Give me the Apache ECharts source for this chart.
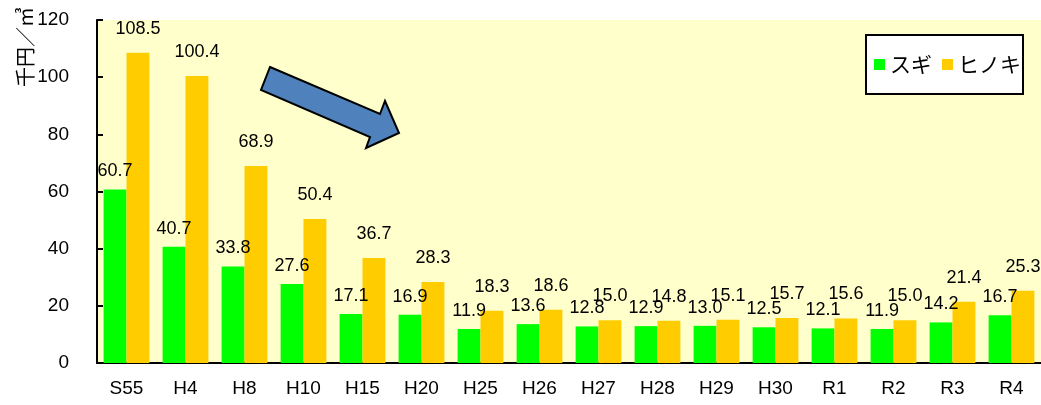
<!DOCTYPE html>
<html>
<head>
<meta charset="utf-8">
<script src="https://cdn.jsdelivr.net/npm/echarts@6/dist/echarts.min.js"></script>
<style>
  html, body { margin: 0; padding: 0; background: #fff; }
  #chart { width: 1041px; height: 405px; }
</style>
</head>
<body>
<div id="chart"></div>
<script>
var years = ['S55', 'H4', 'H8', 'H10', 'H15', 'H20', 'H25', 'H26', 'H27', 'H28', 'H29', 'H30', 'R1', 'R2', 'R3', 'R4'];
var sugi = [60.7, 40.7, 33.8, 27.6, 17.1, 16.9, 11.9, 13.6, 12.8, 12.9, 13.0, 12.5, 12.1, 11.9, 14.2, 16.7];
var hinoki = [108.5, 100.4, 68.9, 50.4, 36.7, 28.3, 18.3, 18.6, 15.0, 14.8, 15.1, 15.7, 15.6, 15.0, 21.4, 25.3];

var font = '"Liberation Sans", "Noto Sans CJK JP", sans-serif';

var myChart = echarts.init(document.getElementById('chart'));

var option = {
    animation: false,
    textStyle: { fontFamily: font, color: '#000' },
    grid: {
        left: 97, top: 20, width: 949, height: 343,
        show: true, backgroundColor: '#FFFFCC', borderWidth: 0
    },
    legend: {
        left: 866, top: 35,
        padding: [19, 2, 19, 8],
        backgroundColor: '#fff',
        borderColor: '#000',
        borderWidth: 2,
        itemWidth: 11,
        itemHeight: 11,
        itemGap: 10,
        icon: 'rect',
        textStyle: { fontSize: 21, fontFamily: '"Noto Sans CJK JP", sans-serif', color: '#000' },
        data: ['スギ', 'ヒノキ']
    },
    xAxis: {
        type: 'category',
        data: years,
        axisLine: { lineStyle: { color: '#000', width: 2 } },
        axisTick: { inside: true, length: 6, lineStyle: { color: '#000', width: 2 } },
        axisLabel: { fontSize: 19, color: '#000', margin: 16 }
    },
    yAxis: {
        type: 'value',
        min: 0, max: 120, interval: 20,
        axisLine: { show: true, lineStyle: { color: '#000', width: 2 } },
        axisTick: { show: true, inside: true, length: 6, lineStyle: { color: '#000', width: 2 } },
        axisLabel: { fontSize: 19, color: '#000', margin: 28 },
        splitLine: { show: false }
    },
    graphic: [
        {
            type: 'text',
            x: 25, y: 47,
            rotation: Math.PI / 2,
            style: {
                text: '千円／㎥',
                font: '20px "Noto Sans CJK JP", sans-serif',
                fill: '#000',
                align: 'center',
                verticalAlign: 'middle'
            }
        },
        {
            type: 'polygon',
            shape: {
                points: [[270, 67], [380, 114], [385, 101], [399, 133], [366, 148], [370, 137], [261, 90]]
            },
            style: { fill: '#4F81BD', stroke: '#000', lineWidth: 2 }
        }
    ],
    series: [
        {
            name: 'スギ',
            type: 'bar',
            data: sugi,
            barGap: '0%',
            barCategoryGap: '22.4%',
            itemStyle: { color: '#00FF00' },
            label: {
                show: true, position: 'top', distance: 9,
                fontSize: 18, color: '#000',
                formatter: function (p) { return p.value.toFixed(1); }
            }
        },
        {
            name: 'ヒノキ',
            type: 'bar',
            data: hinoki,
            itemStyle: { color: '#FFCC00' },
            label: {
                show: true, position: 'top', distance: 15,
                fontSize: 18, color: '#000',
                formatter: function (p) { return p.value.toFixed(1); }
            }
        }
    ]
};

myChart.setOption(option);
</script>
</body>
</html>
